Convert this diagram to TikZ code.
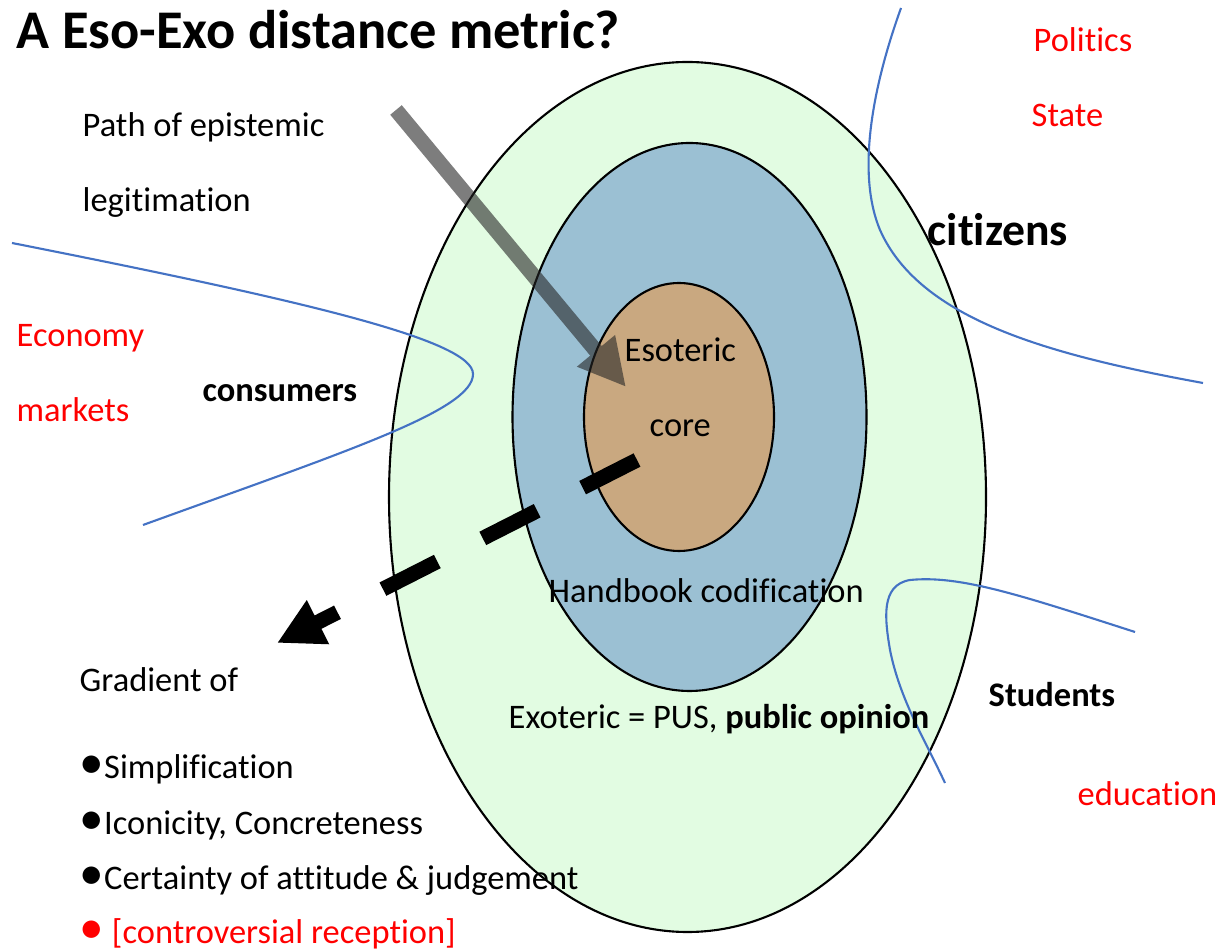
\documentclass[tikz,border=0pt]{standalone}
\usepackage{fontspec}
\setmainfont{Carlito}[Ligatures=NoCommon]
\usetikzlibrary{arrows.meta}

\definecolor{exoGreen}{RGB}{226,252,226}
\definecolor{codexBlue}{RGB}{155,192,211}
\definecolor{coreTan}{RGB}{201,168,128}
\definecolor{fieldBlue}{RGB}{68,114,196}

\newcommand{\bigdot}{{\fontsize{14}{12}\selectfont •}}

\begin{document}
\begin{tikzpicture}[
  txt/.style={anchor=base west, inner sep=0pt, font=\fontsize{9.8}{12}\selectfont},
  field/.style={txt, text=red},
  actor/.style={txt, font=\fontsize{9.8}{12}\selectfont\bfseries},
  border/.style={draw=fieldBlue, line width=0.6pt},
  item/.style={txt, font=\fontsize{9.8}{12}\selectfont}
]
  \useasboundingbox (0,0) rectangle (12.22,-9.51);

  % --- nested zones: exoteric, handbook, core ---
  \draw[fill=exoGreen, line width=0.6pt] (6.875,-4.97) ellipse [x radius=2.985, y radius=4.35];
  \draw[fill=codexBlue, line width=0.6pt] (6.895,-4.17) ellipse [x radius=1.77, y radius=2.74];
  \draw[fill=coreTan, line width=0.6pt] (6.79,-4.17) ellipse [x radius=0.95, y radius=1.34];

  % --- field borders ---
  \draw[border] (0.12,-2.43) .. controls (3.00,-3.00) and (4.73,-3.40) .. (4.73,-3.74)
    .. controls (4.73,-4.10) and (3.50,-4.50) .. (1.43,-5.25);
  \draw[border] (9.01,-0.08) .. controls (8.75,-0.80) and (8.55,-1.70) .. (8.80,-2.30)
    .. controls (9.20,-3.20) and (10.50,-3.55) .. (12.03,-3.83);
  \draw[border] (11.35,-6.32) .. controls (10.20,-5.95) and (9.60,-5.75) .. (9.10,-5.80)
    .. controls (8.80,-5.85) and (8.85,-6.20) .. (8.90,-6.50)
    .. controls (9.00,-7.00) and (9.25,-7.40) .. (9.45,-7.83);

  % --- labels ---
  \node[txt, font=\fontsize{15.5}{18}\selectfont\bfseries] (title) at (0.16,-0.49) {A Eso-Exo distance metric?};
  \node[txt] (path1) at (0.82,-1.37) {Path of epistemic};
  \node[txt] (path2) at (0.82,-2.12) {legitimation};

  \node[txt] (eso1) at (6.24,-3.62) {Esoteric};
  \node[txt] (eso2) at (6.49,-4.37) {core};
  \node[txt] (handbook) at (5.48,-6.03) {Handbook codification};
  \node[txt] (exo) at (5.08,-7.28) {Exoteric = PUS, \textbf{public opinion}};

  \node[field] (economy) at (0.16,-3.47) {Economy};
  \node[field] (markets) at (0.16,-4.22) {markets};
  \node[actor] (consumers) at (2.02,-4.02) {consumers};

  \node[field] (politics) at (10.33,-0.52) {Politics};
  \node[field] (state) at (10.31,-1.27) {State};
  \node[actor, font=\fontsize{13}{15}\selectfont\bfseries] (citizens) at (9.27,-2.46) {citizens};

  \node[actor] (students) at (9.88,-7.07) {Students};
  \node[field] (education) at (10.77,-8.05) {education};

  % --- gradient list ---
  \node[txt] (gradient) at (0.79,-6.91) {Gradient of};
  \node[item] (simpl) at (0.79,-7.79) {\bigdot Simplification};
  \node[item] (icon) at (0.79,-8.34) {\bigdot Iconicity, Concreteness};
  \node[item] (certain) at (0.79,-8.89) {\bigdot Certainty of attitude \& judgement};
  \node[item, text=red] (contro) at (0.79,-9.43) {\bigdot\ [controversial reception]};

  % --- arrows ---
  \coordinate (legitStart) at (3.96,-1.10);
  \coordinate (legitEnd) at (6.26,-3.87);
  \begin{scope}[transparency group, opacity=0.6]
    \draw[black!85, line width=0.15cm, -{Triangle[length=0.47cm, width=0.46cm]}] (legitStart) -- (legitEnd);
  \end{scope}

  \coordinate (gradStart) at (6.37,-4.60);
  \coordinate (gradEnd) at (2.77,-6.43);
  \draw[line width=0.15cm, dash pattern=on 0.61cm off 0.51cm,
    -{Triangle[length=0.46cm, width=0.46cm]}] (gradStart) -- (gradEnd);

\end{tikzpicture}
\end{document}
